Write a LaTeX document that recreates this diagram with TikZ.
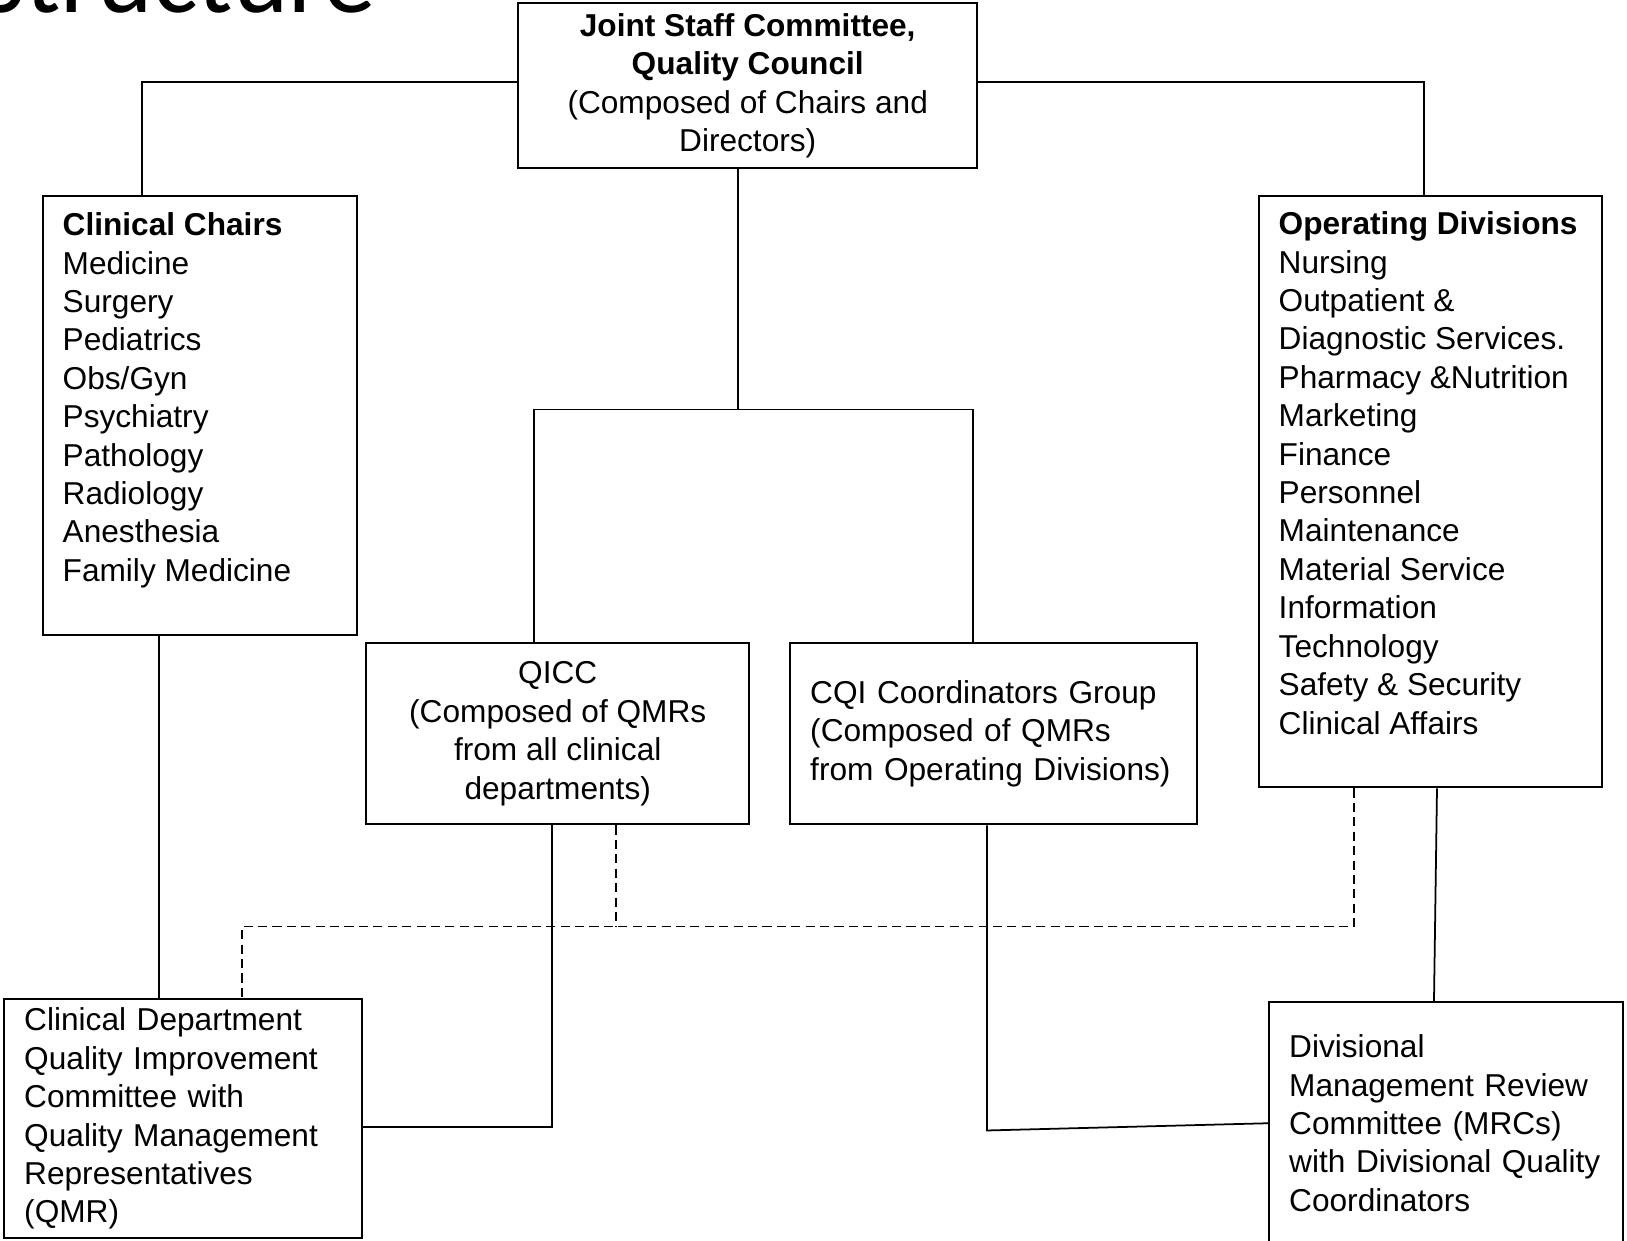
\documentclass[tikz,border=0pt]{standalone}
\usepackage{fontspec}
\setmainfont{Liberation Sans}
\newfontfamily\titlefont{Carlito}
\usepackage{tikz}
\usetikzlibrary{positioning,calc}
\newcommand{\orgfont}{\fontsize{9pt}{10.93pt}\selectfont}

\begin{document}
\begin{tikzpicture}[
    box/.style={rectangle, draw, line width=0.7pt, inner sep=0pt, font=\orgfont, anchor=north west},
    midbox/.style={box, align=center},
    leftbox/.style={box, align=left, inner xsep=0.2cm},
    list/.style={align=left, inner sep=0pt, font=\orgfont, anchor=north west},
    link/.style={line width=0.5pt},
    dlink/.style={link, dash pattern=on 2.6pt off 1.5pt},
]

% Page
\useasboundingbox (0,0) rectangle (16.27,-12.40);
\clip (0,0) rectangle (16.27,-12.40);

% Title (cut off at the top)
\node[font=\titlefont\fontsize{30pt}{36pt}\selectfont, anchor=base east, inner sep=0pt] (title) at (3.77,-0.125) {Structure};

% Top box
\node[midbox, minimum width=4.59cm, minimum height=1.65cm] (jsc) at (5.17,-0.02) {\textbf{Joint Staff Committee,}\\ \textbf{Quality Council}\\ (Composed of Chairs and\\ Directors)};

% Side boxes
\node[box, minimum width=3.14cm, minimum height=4.39cm] (chairs) at (0.42,-1.95) {};
\node[list] (chairslist) at (0.62,-2.12) {\textbf{Clinical Chairs}\\ Medicine\\ Surgery\\ Pediatrics\\ Obs/Gyn\\ Psychiatry\\ Pathology\\ Radiology\\ Anesthesia\\ Family Medicine};

\node[box, minimum width=3.43cm, minimum height=5.91cm] (opdiv) at (12.58,-1.95) {};
\node[list] (opdivlist) at (12.78,-2.11) {\textbf{Operating Divisions}\\ Nursing\\ Outpatient \&\\ Diagnostic Services.\\ Pharmacy \&Nutrition\\ Marketing\\ Finance\\ Personnel\\ Maintenance\\ Material Service\\ Information\\ Technology\\ Safety \& Security\\ Clinical Affairs};

% Middle boxes
\node[midbox, minimum width=3.83cm, minimum height=1.81cm] (qicc) at (3.65,-6.42) {QICC\\ (Composed of QMRs\\ from all clinical\\ departments)};
\node[leftbox, text width=3.67cm, minimum height=1.81cm] (cqi) at (7.89,-6.42) {CQI Coordinators Group\\ (Composed of QMRs\\ from Operating Divisions)};

% Bottom boxes
\node[leftbox, text width=3.18cm, minimum height=2.39cm] (cdq) at (0.03,-9.98) {Clinical Department\\ Quality Improvement\\ Committee with\\ Quality Management\\ Representatives\\ (QMR)};
\node[leftbox, text width=3.14cm, minimum height=2.42cm] (mrc) at (12.68,-10.01) {Divisional\\ Management Review\\ Committee (MRCs)\\ with Divisional Quality\\ Coordinators};

% Lines from the top
\draw[link] ([yshift=0.035cm]jsc.west) -| ($(chairs.north west)+(1.00,0)$);
\draw[link] ([yshift=0.035cm]jsc.east) -| ($(opdiv.north west)+(1.66,0)$);
\draw[link] ($(jsc.south west)+(2.21,0)$) -- ++(0,-2.40) coordinate (split);
\draw[link] ($(qicc.north west)+(1.69,0)$) |- (split) -| ($(cqi.north west)+(1.84,0)$);

% Lines to the bottom
\draw[link] ($(chairs.south west)+(1.17,0)$) -- ($(cdq.north west)+(1.56,0)$);
\draw[link] ($(qicc.south west)+(1.87,0)$) |- ($(cdq.north east)+(0,-1.29)$);
\draw[link] ($(cqi.south west)+(1.98,0)$) -- ++(0,-3.05) -- (mrc.west);
\draw[link] ($(opdiv.south west)+(1.79,0)$) -- ($(mrc.north west)+(1.66,0)$);

% Dashed links
\draw[dlink] ($(qicc.south west)+(2.51,0)$) -- ++(0,-1.01);
\draw[dlink] ($(opdiv.south west)+(0.96,0)$) -- ++(0,-1.38) -| ($(cdq.north west)+(2.39,0)$);

\end{tikzpicture}
\end{document}
